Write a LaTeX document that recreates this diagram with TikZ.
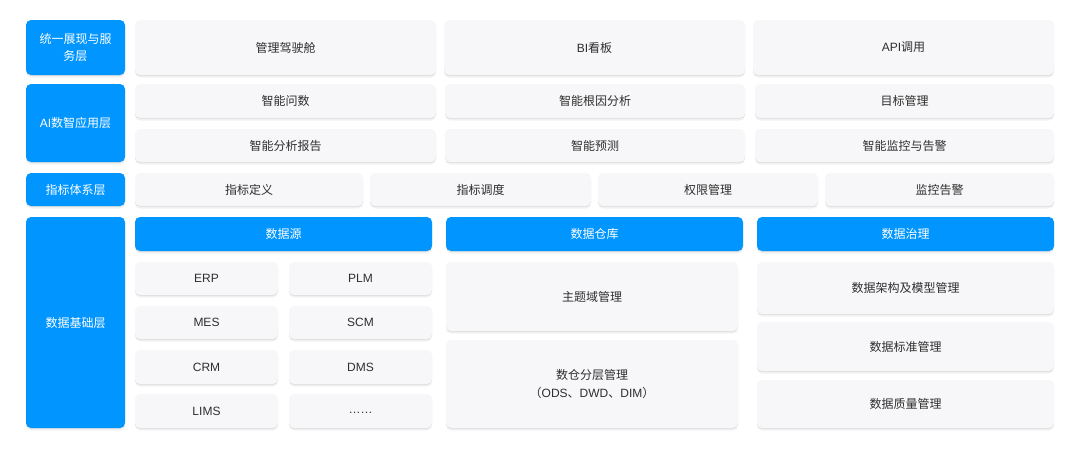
\documentclass[tikz,border=0pt]{standalone}
\usepackage{fontspec}
\setmainfont{Noto Sans CJK SC}
\newfontfamily\lat{Liberation Sans}
\usetikzlibrary{shadows}
\definecolor{myblue}{HTML}{0095FF}
\definecolor{boxgray}{HTML}{F7F7F9}
\definecolor{txt}{HTML}{2E2E2E}
\tikzset{
  base/.style={rounded corners=5pt, inner sep=0pt, outer sep=0pt, align=center,
    font=\fontsize{12}{17.5}\selectfont},
  softshadow/.style={
    drop shadow={shadow xshift=0pt, shadow yshift=-1pt, opacity=0.07, fill=black},
    drop shadow={shadow xshift=0pt, shadow yshift=-2.5pt, opacity=0.05, fill=black}},
  lbox/.style={base, softshadow, fill=boxgray, text=txt},
  bbox/.style={base, softshadow, fill=myblue, text=white},
}
\newcommand\mybox[7]{%
  \node[#6, minimum width={(#4-#2)*1pt}, minimum height={(#5-#3)*1pt}]
    (#1) at ({(#2+#4)/2},{(#3+#5)/2}) {#7};}
\begin{document}
\begin{tikzpicture}[x=1pt, y=-1pt]
\useasboundingbox (0,0) rectangle (1080,448);
\fill[white] (0,0) rectangle (1080,448);

% left layer labels
\mybox{l1}{26}{20}{125}{75}{bbox}{统一展现与服\\务层}
\mybox{l2}{26}{84}{125}{162}{bbox}{{\lat AI}数智应用层}
\mybox{l3}{26}{173}{125}{206}{bbox}{指标体系层}
\mybox{l4}{26}{217}{125}{428}{bbox}{数据基础层}

% presentation layer
\mybox{p1}{135}{20}{436}{75}{lbox}{管理驾驶舱}
\mybox{p2}{444}{20}{745}{75}{lbox}{{\lat BI}看板}
\mybox{p3}{753}{20}{1054}{75}{lbox}{{\lat API}调用}

% AI layer
\mybox{a1}{135}{84}{436}{118}{lbox}{智能问数}
\mybox{a2}{445}{84}{745}{118}{lbox}{智能根因分析}
\mybox{a3}{755}{84}{1054}{118}{lbox}{目标管理}
\mybox{a4}{135}{129}{436}{162}{lbox}{智能分析报告}
\mybox{a5}{445}{129}{745}{162}{lbox}{智能预测}
\mybox{a6}{755}{129}{1054}{162}{lbox}{智能监控与告警}

% indicator layer
\mybox{i1}{135}{173}{363}{206}{lbox}{指标定义}
\mybox{i2}{370}{173}{591}{206}{lbox}{指标调度}
\mybox{i3}{598}{173}{818}{206}{lbox}{权限管理}
\mybox{i4}{825}{173}{1054}{206}{lbox}{监控告警}

% data foundation headers
\mybox{h1}{135}{217}{432}{251}{bbox}{数据源}
\mybox{h2}{446}{217}{743}{251}{bbox}{数据仓库}
\mybox{h3}{757}{217}{1054}{251}{bbox}{数据治理}

% data sources
\mybox{s1}{135}{262}{278}{295}{lbox}{\lat ERP}
\mybox{s2}{289}{262}{432}{295}{lbox}{\lat PLM}
\mybox{s3}{135}{306}{278}{339}{lbox}{\lat MES}
\mybox{s4}{289}{306}{432}{339}{lbox}{\lat SCM}
\mybox{s5}{135}{350}{278}{384}{lbox}{\lat CRM}
\mybox{s6}{289}{350}{432}{384}{lbox}{\lat DMS}
\mybox{s7}{135}{394}{278}{428}{lbox}{\lat LIMS}
\mybox{s8}{289}{394}{432}{428}{lbox}{\raisebox{-2.5pt}[0pt][0pt]{\lat ……}}

% warehouse
\mybox{w1}{446}{262}{738}{331}{lbox}{主题域管理}
\mybox{w2}{446}{340}{738}{428}{lbox}{数仓分层管理\\（{\lat ODS}、{\lat DWD}、{\lat DIM}）}

% governance
\mybox{g1}{757}{262}{1054}{314}{lbox}{数据架构及模型管理}
\mybox{g2}{757}{322}{1054}{371}{lbox}{数据标准管理}
\mybox{g3}{757}{380}{1054}{428}{lbox}{数据质量管理}
\end{tikzpicture}
\end{document}
